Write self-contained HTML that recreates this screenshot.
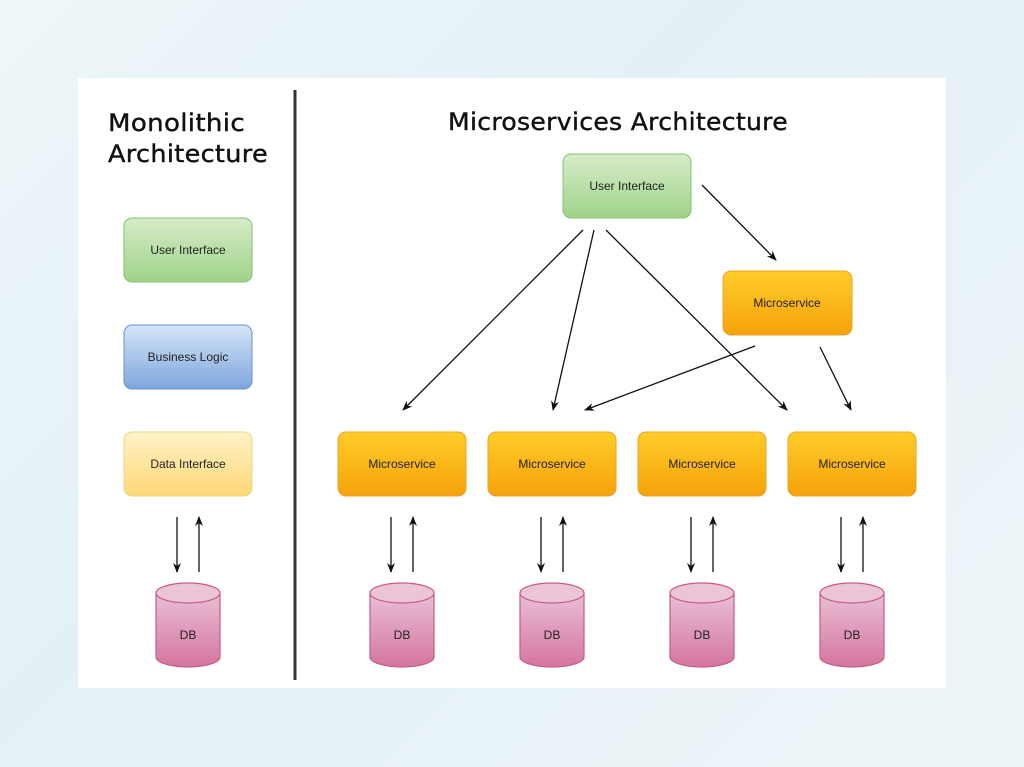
<!DOCTYPE html>
<html><head><meta charset="utf-8"><style>
html,body{margin:0;padding:0;}
body{width:1024px;height:767px;overflow:hidden;background:linear-gradient(135deg,#eef6f9,#e3f1f6 40%,#eef5f8);}
svg{display:block}
text{font-family:"Liberation Sans",sans-serif;}
.t{font-family:"DejaVu Sans","Liberation Sans",sans-serif;font-size:24px;letter-spacing:0.3px;fill:#111;stroke:#111;stroke-width:0.4;}
</style></head><body>
<svg width="1024" height="767" viewBox="0 0 1024 767">
<defs>
<linearGradient id="g" x1="0" y1="0" x2="0" y2="1"><stop offset="0" stop-color="#d6ecc8"/><stop offset="1" stop-color="#9fd38a"/></linearGradient>
<linearGradient id="b" x1="0" y1="0" x2="0" y2="1"><stop offset="0" stop-color="#d6e6f8"/><stop offset="1" stop-color="#7ea6dc"/></linearGradient>
<linearGradient id="y" x1="0" y1="0" x2="0" y2="1"><stop offset="0" stop-color="#fff3c8"/><stop offset="1" stop-color="#fdd775"/></linearGradient>
<linearGradient id="o" x1="0" y1="0" x2="0" y2="1"><stop offset="0" stop-color="#ffcd28"/><stop offset="1" stop-color="#f6a20c"/></linearGradient>
<linearGradient id="p" x1="0" y1="0" x2="0" y2="1"><stop offset="0" stop-color="#e9c0d4"/><stop offset="1" stop-color="#d5749f"/></linearGradient>
<marker id="a" markerWidth="10" markerHeight="10" refX="9" refY="5" orient="auto" markerUnits="userSpaceOnUse"><path d="M0,1 L10,5 L0,9 L3,5 Z" fill="#111"/></marker>
<g id="db"><path d="M0,10 L0,74 A32,10 0 0 0 64,74 L64,10" fill="url(#p)" stroke="#c55c8c" stroke-width="1.2"/><ellipse cx="32" cy="10" rx="32" ry="10" fill="#ebc5d7" stroke="#c55c8c" stroke-width="1.2"/></g>
</defs>
<rect x="78" y="78" width="868" height="610" fill="#fff"/>
<line x1="295" y1="90" x2="295" y2="680" stroke="#333" stroke-width="3"/>
<text class="t" x="108" y="131" textLength="137" lengthAdjust="spacingAndGlyphs">Monolithic</text>
<text class="t" x="108" y="162" textLength="160" lengthAdjust="spacingAndGlyphs">Architecture</text>
<text class="t" x="448" y="130" textLength="340" lengthAdjust="spacingAndGlyphs">Microservices Architecture</text>
<g font-size="12" text-anchor="middle" fill="#222">
<rect x="124" y="218" width="128" height="64" rx="8" fill="url(#g)" stroke="#86c26f"/><text x="188" y="254">User Interface</text>
<rect x="124" y="325" width="128" height="64" rx="8" fill="url(#b)" stroke="#6d93c8"/><text x="188" y="361">Business Logic</text>
<rect x="124" y="432" width="128" height="64" rx="8" fill="url(#y)" stroke="#ecd48a"/><text x="188" y="468">Data Interface</text>
<rect x="563" y="154" width="128" height="64" rx="8" fill="url(#g)" stroke="#86c26f"/><text x="627" y="190">User Interface</text>
<rect x="723" y="271" width="129" height="64" rx="8" fill="url(#o)" stroke="#e8a32a"/><text x="787" y="307">Microservice</text>
<rect x="338" y="432" width="128" height="64" rx="8" fill="url(#o)" stroke="#e8a32a"/><text x="402" y="468">Microservice</text>
<rect x="488" y="432" width="128" height="64" rx="8" fill="url(#o)" stroke="#e8a32a"/><text x="552" y="468">Microservice</text>
<rect x="638" y="432" width="128" height="64" rx="8" fill="url(#o)" stroke="#e8a32a"/><text x="702" y="468">Microservice</text>
<rect x="788" y="432" width="128" height="64" rx="8" fill="url(#o)" stroke="#e8a32a"/><text x="852" y="468">Microservice</text>
<use href="#db" x="156" y="583"/><text x="188" y="639">DB</text>
<use href="#db" x="370" y="583"/><text x="402" y="639">DB</text>
<use href="#db" x="520" y="583"/><text x="552" y="639">DB</text>
<use href="#db" x="670" y="583"/><text x="702" y="639">DB</text>
<use href="#db" x="820" y="583"/><text x="852" y="639">DB</text>
</g>
<g stroke="#111" stroke-width="1.3" marker-end="url(#a)">
<line x1="177" y1="517" x2="177" y2="572"/><line x1="199" y1="572" x2="199" y2="517"/>
<line x1="391" y1="517" x2="391" y2="572"/><line x1="413" y1="572" x2="413" y2="517"/>
<line x1="541" y1="517" x2="541" y2="572"/><line x1="563" y1="572" x2="563" y2="517"/>
<line x1="691" y1="517" x2="691" y2="572"/><line x1="713" y1="572" x2="713" y2="517"/>
<line x1="841" y1="517" x2="841" y2="572"/><line x1="863" y1="572" x2="863" y2="517"/>
<line x1="702" y1="185" x2="776" y2="260"/>
<line x1="583" y1="230" x2="403" y2="410"/>
<line x1="594" y1="230" x2="553" y2="410"/>
<line x1="606" y1="230" x2="787" y2="410"/>
<line x1="755" y1="346" x2="585" y2="410"/>
<line x1="820" y1="347" x2="851" y2="410"/>
</g>
</svg>
</body></html>
